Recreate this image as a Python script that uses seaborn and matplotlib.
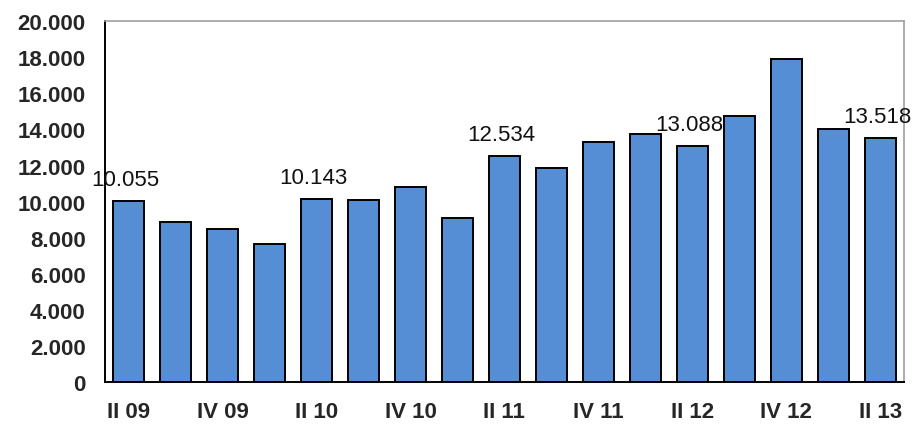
import matplotlib
matplotlib.use("Agg")
import matplotlib.pyplot as plt
import matplotlib.ticker as mticker
import seaborn as sns
import pandas as pd

quarters = ["II 09", "III 09", "IV 09", "I 10", "II 10", "III 10", "IV 10", "I 11",
            "II 11", "III 11", "IV 11", "I 12", "II 12", "III 12", "IV 12", "I 13", "II 13"]
values = [10055, 8860, 8460, 7660, 10143, 10080, 10790, 9090,
          12534, 11890, 13310, 13740, 13088, 14740, 17880, 14030, 13518]
labelled = ["II 09", "II 10", "II 11", "II 12", "II 13"]

df = pd.DataFrame({"quarter": quarters, "value": values})

sns.set_style("white")
plt.rcParams["font.family"] = ["Liberation Sans", "DejaVu Sans"]

fig = plt.figure(figsize=(9.13, 4.27), dpi=100)
ax = fig.add_axes([0.115, 0.103, 0.875, 0.845])

sns.barplot(data=df, x="quarter", y="value", color="#558ED5", saturation=1,
            width=0.66, edgecolor="black", linewidth=1.4, ax=ax)

ax.set_xlim(-0.5, len(quarters) - 0.5)
ax.set_ylim(0, 20000)


def dot_fmt(v, pos):
    return f"{int(v):,}".replace(",", ".")


ax.yaxis.set_major_locator(mticker.MultipleLocator(2000))
ax.yaxis.set_major_formatter(mticker.FuncFormatter(dot_fmt))
ax.tick_params(axis="y", direction="out", length=8, width=1.2, color="black",
               labelsize=16, pad=6)
for t in ax.get_yticklabels():
    t.set_fontweight("bold")

# labels every second quarter, tick marks between categories
pos = list(range(0, len(quarters), 2))
ax.set_xticks(pos)
ax.set_xticklabels([quarters[i] for i in pos], fontsize=16, fontweight="bold")
ax.tick_params(axis="x", which="major", length=0, pad=14)
ax.set_xticks([p - 0.5 for p in pos], minor=True)
ax.tick_params(axis="x", which="minor", direction="out", length=7, width=1.2, color="black")

ax.set_xlabel("")
ax.set_ylabel("")

for s in ["left", "bottom"]:
    ax.spines[s].set_color("black")
    ax.spines[s].set_linewidth(1.4)
for s in ["top", "right"]:
    ax.spines[s].set_color("#a0a0a0")
    ax.spines[s].set_linewidth(1.2)

for i, (q, v) in enumerate(zip(quarters, values)):
    if q in labelled:
        ax.annotate(dot_fmt(v, None), xy=(i, v), xytext=(-2, 8), textcoords="offset points",
                    ha="center", va="bottom", fontsize=16, color="#111111")

fig.savefig("out.png", dpi=100)
